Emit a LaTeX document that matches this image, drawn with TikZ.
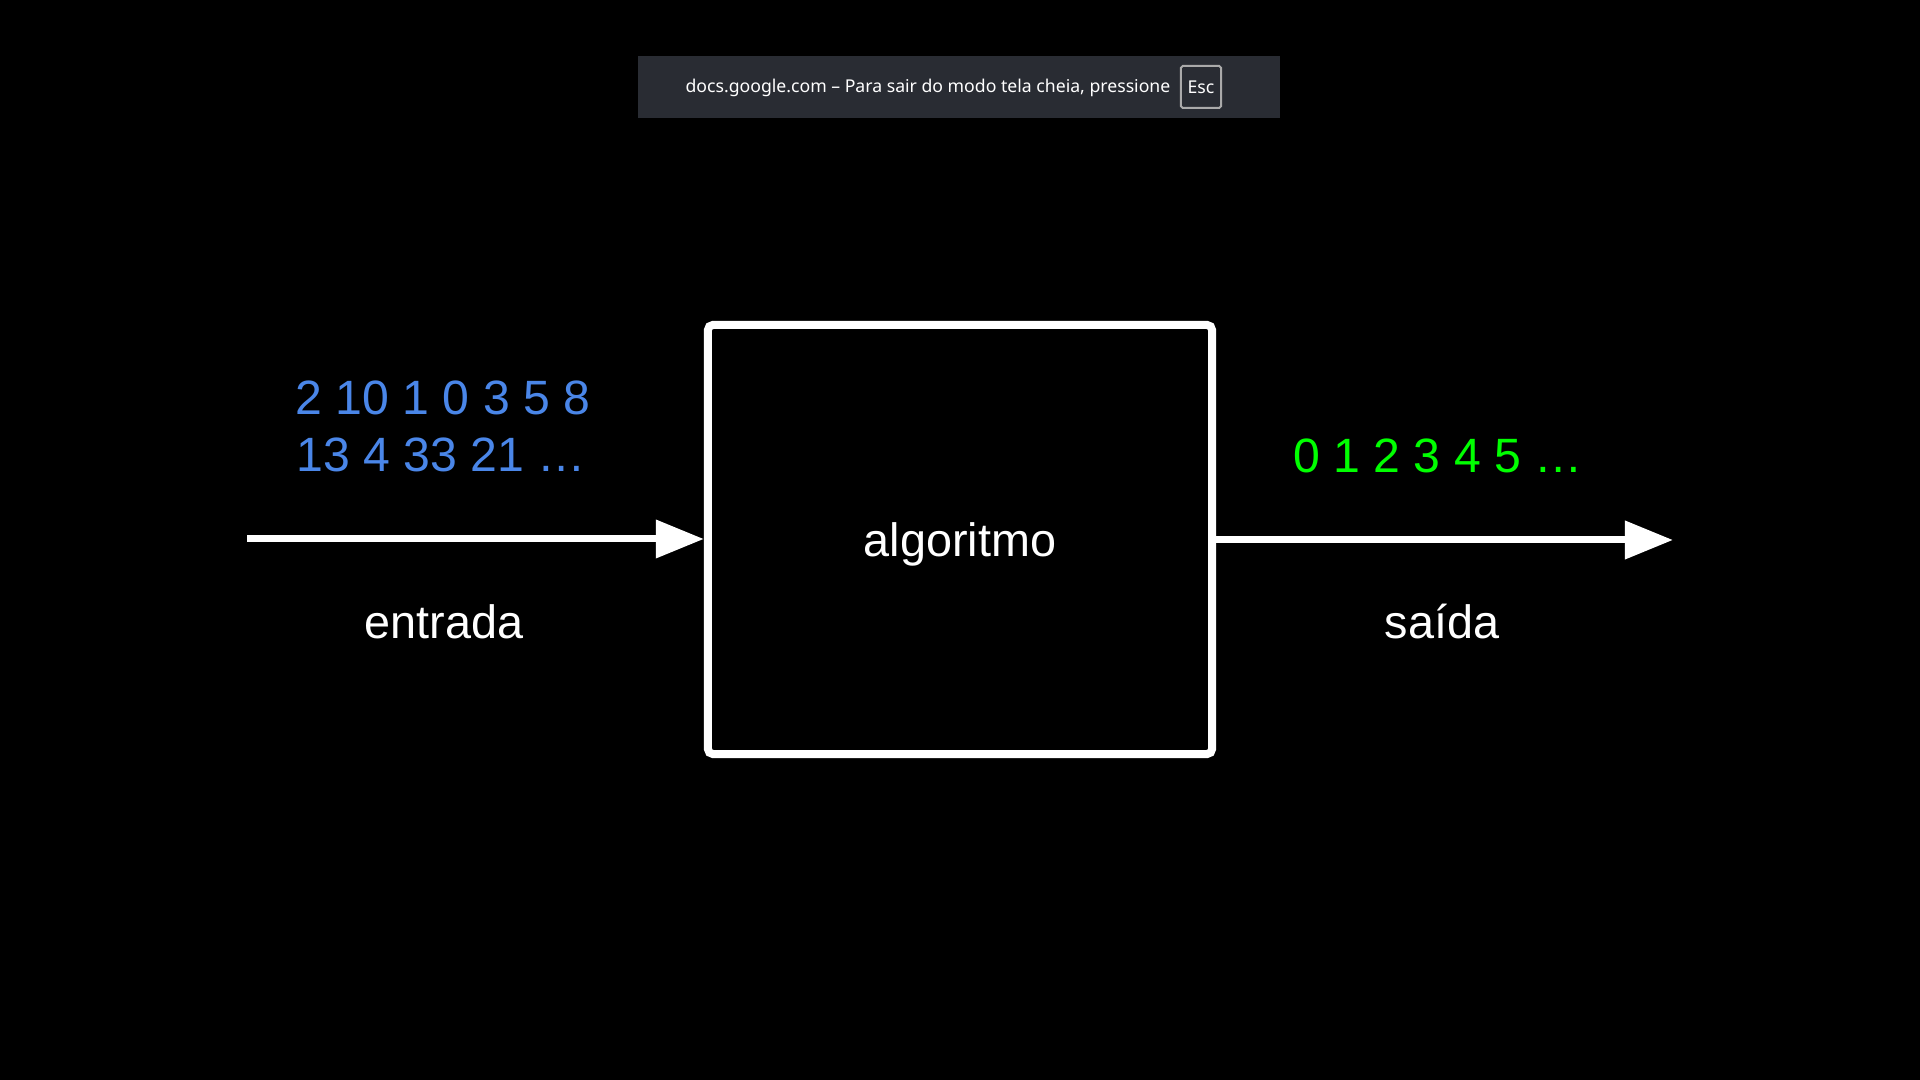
\documentclass[tikz,border=0pt]{standalone}
\usepackage{fontspec}
\setmainfont{Liberation Sans}
\newfontfamily\uifont{Noto Sans}
\usetikzlibrary{arrows.meta}
\definecolor{barbg}{RGB}{41,44,51}
\definecolor{escborder}{RGB}{170,170,170}
\definecolor{numblue}{RGB}{74,134,232}
\definecolor{numgreen}{RGB}{0,255,0}
\tikzset{
  big/.style={font=\fontsize{13.7pt}{16pt}\selectfont, inner sep=0pt},
  lbl/.style={font=\fontsize{13.3pt}{16pt}\selectfont, inner sep=0pt, text=white},
  flow/.style={white, line width=0.07cm, -{Triangle[length=0.48cm, width=0.37cm]}},
}
\begin{document}
\begin{tikzpicture}[x=0.01cm, y=-0.01cm]
  \fill[black] (0,0) rectangle (1920,1080);
  \useasboundingbox (0,0) rectangle (1920,1080);
  % top notification bar
  \node[fill=barbg, minimum width=6.42cm, minimum height=0.62cm, inner sep=0pt] (bar) at (959,87) {};
  \node[text=white, font=\uifont\fontsize{5.02pt}{6pt}\selectfont, anchor=base east, inner sep=0pt] (bartext) at (1171,93) {docs.google.com – Para sair do modo tela cheia, pressione};
  \node[draw=escborder, line width=0.02cm, fill=barbg, minimum width=0.40cm, minimum height=0.42cm, inner sep=0pt, rounded corners=0.5pt, text=white, font=\uifont\fontsize{5.02pt}{6pt}\selectfont] (esc) at (1201,87) {Esc};
  % main box
  \node[draw=white, line width=0.08cm, rounded corners=1.5pt, minimum width=5.04cm, minimum height=4.29cm, text height=0.35cm, text depth=0pt, inner sep=0pt, text=white, font=\fontsize{13.3pt}{16pt}\selectfont] (algo) at (960,539.5) {algoritmo};
  % input
  \node[big, text=numblue, anchor=base] (numsA) at (443,415) {2 10 1 0 3 5 8};
  \node[big, text=numblue, anchor=base] (numsB) at (441,472) {13 4 33 21 …};
  \node[lbl, anchor=base] (entrada) at (444,639) {entrada};
  % output
  \node[big, text=numgreen, anchor=base] (numsC) at (1438,473) {0 1 2 3 4 5 …};
  \node[lbl, anchor=base] (saida) at (1442,639) {saída};
  % arrows
  \coordinate (inStart) at (247,539);
  \coordinate (outEnd) at (1673,540);
  \draw[flow] (inStart) -- (algo.west |- inStart);
  \draw[flow] (algo.east |- outEnd) -- (outEnd);
\end{tikzpicture}
\end{document}
